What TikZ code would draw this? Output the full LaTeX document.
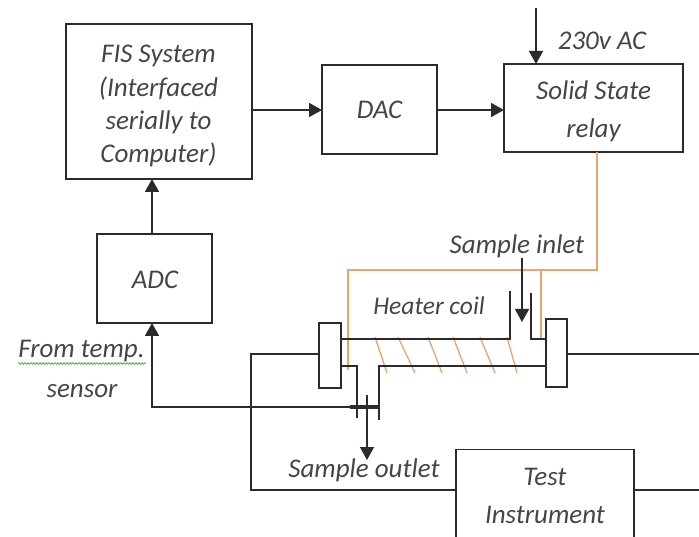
\documentclass[tikz,border=0pt]{standalone}
\usepackage{fontspec}
\setmainfont{Carlito}
\usetikzlibrary{arrows.meta,decorations.pathmorphing}
\definecolor{ink}{HTML}{2B2B2B}
\definecolor{txt}{HTML}{454545}
\definecolor{coil}{HTML}{E8A56F}
\tikzset{
 box/.style={draw=ink,line width=1.8pt,anchor=north west,inner sep=0pt,outer sep=0pt},
 lbl/.style={text=txt,inner sep=0pt,anchor=base,font=\fontsize{27}{32}\selectfont\itshape},
 wire/.style={draw=ink,line width=1.5pt},
 flow/.style={wire,-{Triangle[length=13pt,width=14pt]}},
 heat/.style={draw=coil,line width=1.6pt},
}
\begin{document}
\begin{tikzpicture}[x=1pt,y=-1pt]
\useasboundingbox (0,0) rectangle (699,537);
\clip (0,0) rectangle (699,537);
% blocks
\node[box,minimum width=186pt,minimum height=155pt] (fis) at (66,24) {};
\node[box,minimum width=115pt,minimum height=89pt] (dac) at (322,65) {};
\node[box,minimum width=179pt,minimum height=88pt] (ssr) at (504,64) {};
\node[box,minimum width=115pt,minimum height=89pt] (adc) at (97,234) {};
\node[box,minimum width=178pt,minimum height=120pt] (test) at (456,449.5) {};
% block texts
\node[lbl] (fisa) at (158.5,63) {FIS System};
\node[lbl] (fisb) at (158.5,97) {(Interfaced};
\node[lbl] (fisc) at (158.5,130) {serially to};
\node[lbl] (fisd) at (158.5,163) {Computer)};
\node[lbl] (dact) at (379.5,119) {DAC};
\node[lbl] (ssra) at (593.5,100) {Solid State};
\node[lbl] (ssrb) at (593.5,138) {relay};
\node[lbl] (adct) at (155,289) {ADC};
\node[lbl] (testa) at (545,485) {Test};
\node[lbl] (testb) at (545,523) {Instrument};
% flanges
\node[box,line width=1.5pt,minimum width=22pt,minimum height=65pt] (fl) at (319,323) {};
\node[box,line width=1.5pt,minimum width=21pt,minimum height=68pt] (fr) at (546,319) {};
% heater wiring
\coordinate (hc) at (597,270);
\coordinate (hl) at (348,270);
\coordinate (hle) at (348,370);
\coordinate (hb) at (541,270);
\coordinate (hbe) at (541,339);
\draw[heat] (ssr.south -| hc) -- (hc) -- (hl) -- (hle);
\draw[heat] (hb) -- (hbe);
\foreach \a/\b in {375/387,398/415,428/442,453/467,480/495,507/517}{
  \draw[heat,line width=1.3pt] (\a,337) -- (\b,373);
}
% tube
\coordinate (t1) at (510,339);
\coordinate (t2) at (510,291);
\coordinate (t3) at (531,293);
\coordinate (t4) at (531,339);
\coordinate (b1) at (357,366);
\coordinate (b2) at (357,418);
\coordinate (b3) at (379,420);
\coordinate (b4) at (379,366);
\draw[wire] (fl.east |- t1) -- (t1) -- (t2);
\draw[wire] (t3) -- (t4) -- (fr.west |- t4);
\draw[wire] (fl.east |- b1) -- (b1) -- (b2);
\draw[wire] (b3) -- (b4) -- (fr.west |- b4);
% signal connections
\coordinate (m1) at (0,110);
\coordinate (m2) at (152,0);
\draw[flow] (fis.east |- m1) -- (dac.west |- m1);
\draw[flow] (dac.east |- m1) -- (ssr.west |- m1);
\coordinate (ac) at (536,8);
\coordinate (acm) at (536,0);
\draw[flow] (ac) -- (ssr.north -| acm);
\draw[flow] (adc.north -| m2) -- (fis.south -| m2);
% sensor line
\coordinate (sa) at (152,407);
\coordinate (sb) at (380,407);
\coordinate (sc) at (350,407);
\draw[flow] (sb) -- (sa) -- (adc.south -| sa);
\draw[draw=ink,line width=3.4pt] (sc) -- (sb);
% sample
\coordinate (si) at (522,258);
\coordinate (sie) at (522,322);
\draw[flow] (si) -- (sie);
\coordinate (so) at (367,395);
\coordinate (soe) at (367,460);
\draw[flow] (so) -- (soe);
% test wiring
\coordinate (w1) at (251,354);
\coordinate (w2) at (251,490);
\coordinate (er) at (699,354);
\coordinate (et) at (699,490);
\draw[wire] (fl.west |- w1) -- (w1) -- (w2) -- (test.west |- w2);
\draw[wire] (fr.east |- er) -- (er);
\draw[wire] (test.east |- et) -- (et);
% labels
\node[lbl] (l230) at (602,50) {230v AC};
\node[lbl] (linlet) at (517,254) {Sample inlet};
\node[lbl,font=\fontsize{25.5}{30}\selectfont\itshape] (lcoil) at (429,315) {Heater coil};
\node[lbl] (lout) at (364,477) {Sample outlet};
\node[lbl] (lfrom) at (81.5,357) {From temp.};
\node[lbl] (lsens) at (82,397) {sensor};
\coordinate (sq1) at (18,363.5);
\coordinate (sq2) at (146,363.5);
\draw[draw=green!35!gray,line width=0.8pt,decorate,decoration={snake,amplitude=0.8pt,segment length=3pt}] (sq1) -- (sq2);
\end{tikzpicture}
\end{document}
